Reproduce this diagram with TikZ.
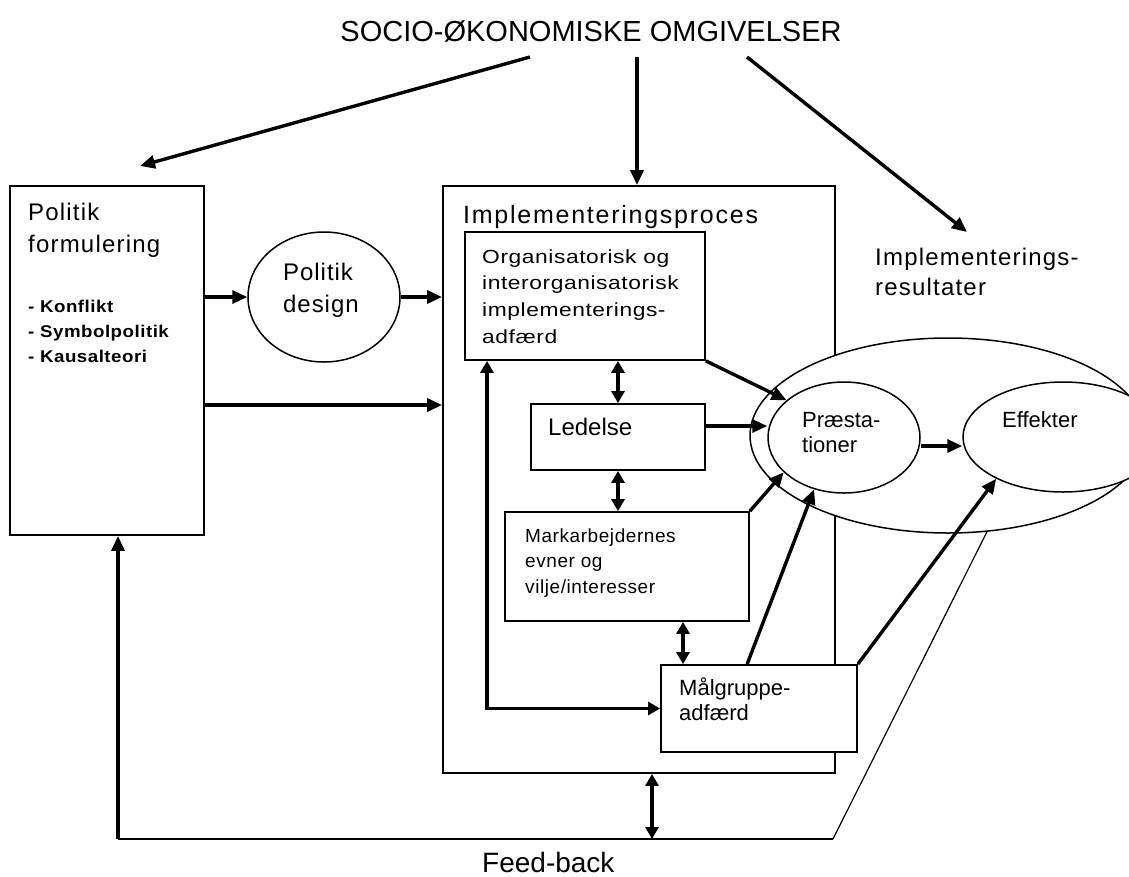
\documentclass[tikz,border=0pt]{standalone}
\usepackage{fontspec}
\setmainfont{Liberation Sans}
\newfontfamily\lsiii[LetterSpace=3]{Liberation Sans}
\newfontfamily\lsiv[LetterSpace=4]{Liberation Sans}
\newfontfamily\lsv[LetterSpace=5]{Liberation Sans}
\newfontfamily\lsvii[LetterSpace=7]{Liberation Sans}
\newfontfamily\lsbul[LetterSpace=3,FakeStretch=1.1]{Liberation Sans}
\newfontfamily\lsorg[LetterSpace=3,FakeStretch=1.2]{Liberation Sans}
\usetikzlibrary{arrows.meta,shapes.geometric,calc}
\newcommand{\fsz}[2]{\fontsize{#1pt}{#2pt}\selectfont}
\begin{document}
\begin{tikzpicture}[x=1pt,y=-1pt,
  box/.style={draw, rectangle, line width=1.8pt, fill=white, inner sep=0pt},
  oval/.style={draw, ellipse, line width=1.5pt, fill=white, inner sep=0pt},
  txt/.style={inner sep=0pt, anchor=north west, align=left},
  lbl/.style={inner sep=0pt, anchor=base west},
  arr/.style={line width=3.4pt, -{Triangle[length=15pt,width=13pt]}},
  darr/.style={line width=3.4pt, {Triangle[length=12pt,width=13pt]}-{Triangle[length=12pt,width=13pt]}},
  thin/.style={line width=1.2pt}]
\path[use as bounding box] (0,0) rectangle (1129,876);
\clip (0,0) rectangle (1129,876);

% shapes
\node[box, minimum width=194, minimum height=349] (polbox) at (107,360.5) {};
\node[oval, minimum width=152, minimum height=130] (design) at (324,297) {};
\node[box, minimum width=392, minimum height=587] (impl) at (639,479.5) {};
\node[oval, minimum width=396, minimum height=195] (outer) at (948,435.5) {};
\node[oval, minimum width=152, minimum height=111] (praes) at (844,437.5) {};
\node[oval, minimum width=200, minimum height=110] (eff) at (1063,437) {};
\node[box, minimum width=240, minimum height=128] (org) at (585,296) {};
\node[box, minimum width=174, minimum height=66] (led) at (618,437) {};
\node[box, minimum width=244, minimum height=109] (mark) at (627,566.5) {};
\node[box, minimum width=196, minimum height=87] (mal) at (759,708.5) {};

% texts
\node[inner sep=0pt, anchor=base, font=\fsz{29}{35}] (title) at (591,41) {SOCIO-ØKONOMISKE OMGIVELSER};
\node[txt, font=\lsv\fsz{24}{32}] (poltxt) at (28,198.4) {\rule{0pt}{0.9em}Politik\\formulering};
\node[txt, font=\lsbul\bfseries\fsz{17}{25}] (bullets) at (28,296.7) {\rule{0pt}{0.9em}- Konflikt\\- Symbolpolitik\\- Kausalteori};
\node[txt, font=\lsiv\fsz{24}{32}] (destxt) at (283,258.4) {\rule{0pt}{0.9em}Politik\\design};
\node[lbl, font=\lsvii\fsz{25}{30}] (impltxt) at (463,223) {Implementeringsproces};
\node[txt, font=\lsorg\fsz{19}{26.7}] (orgtxt) at (482,245.9) {\rule{0pt}{0.9em}Organisatorisk og\\interorganisatorisk\\implementerings-\\adfærd};
\node[lbl, font=\fsz{24}{30}] (ledtxt) at (548,435) {Ledelse};
\node[txt, font=\lsiii\fsz{19}{25.5}] (marktxt) at (525,524.9) {\rule{0pt}{0.9em}Markarbejdernes\\evner og\\vilje/interesser};
\node[txt, font=\fsz{22}{25}] (maltxt) at (679,675.2) {\rule{0pt}{0.9em}Målgruppe-\\adfærd};
\node[txt, font=\fsz{22}{25}] (praestxt) at (802,407.2) {\rule{0pt}{0.9em}Præsta-\\tioner};
\node[lbl, font=\fsz{22}{25}] (efftxt) at (1002,427) {Effekter};
\node[txt, font=\lsv\fsz{24}{30}] (restxt) at (875,243.4) {\rule{0pt}{0.9em}Implementerings-\\resultater};
\node[lbl, font=\fsz{28}{32}] (fbtxt) at (482,872) {Feed-back};

% top arrows
\coordinate (t1) at (530,57); \coordinate (e1) at (140,166);
\coordinate (t2) at (637,57);
\coordinate (t3) at (747,57); \coordinate (e3) at (967,232);
\draw[arr] (t1) -- (e1);
\draw[arr] (t2) -- (t2 |- impl.north);
\draw[arr] (t3) -- (e3);

% left part
\coordinate (y405) at (0,405);
\draw[arr] (polbox.east |- design.west) -- (design.west);
\draw[arr] (design.east) -- (design.east -| impl.west);
\draw[arr] (polbox.east |- y405) -- (impl.west |- y405);

% inner arrows
\coordinate (y426) at (0,426);
\coordinate (y446) at (0,446);
\coordinate (x683) at (683,0);
\coordinate (x487) at (487,0);
\draw[arr] (org.south east) -- (praes.147);
\draw[arr] (led.east |- y426) -- (y426 -| praes.west);
\draw[arr] (mark.north east) -- (praes.210);
\draw[arr] ($(mal.north west)!0.44!(mal.north east)$) -- (praes.240);
\draw[arr] (mal.north east) -- (eff.212);
\draw[arr] (praes.east |- y446) -- (y446 -| eff.west);
\draw[darr] (led.north) -- (led.north |- org.south);
\draw[darr] (led.south) -- (led.south |- mark.north);
\draw[darr] (x683 |- mark.south) -- (x683 |- mal.north);
\draw[darr] (mal.west) -- (mal.west -| x487) -- (x487 |- org.south);

% feedback
\coordinate (fbl) at (118,839); \coordinate (fbr) at (833,839);
\coordinate (x652) at (652,0);
\draw[line width=2.2pt] (fbl) -- (fbr);
\draw[thin] (fbr) -- (outer.-68);
\draw[arr] (fbl) -- (fbl |- polbox.south);
\draw[darr] (x652 |- impl.south) -- (x652 |- fbl);
\end{tikzpicture}
\end{document}
